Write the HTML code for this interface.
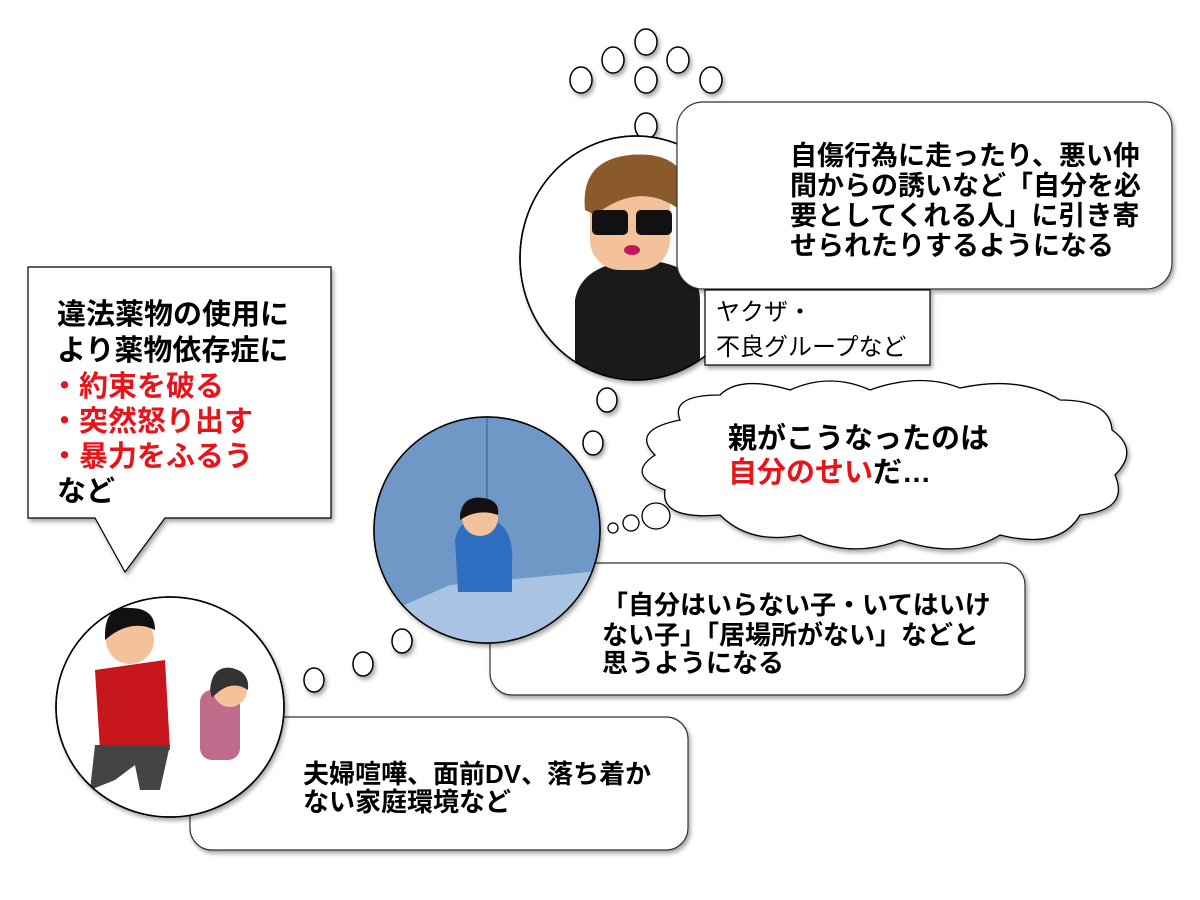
<!DOCTYPE html>
<html><head><meta charset="utf-8"><style>
body{margin:0;background:#fff}
svg{display:block}
text{font-family:"Liberation Sans","Noto Sans CJK JP",sans-serif;font-weight:bold}
</style></head><body>
<svg width="1200" height="900" viewBox="0 0 1200 900" xmlns="http://www.w3.org/2000/svg">
<defs>
<filter id="sh" x="-10%" y="-10%" width="130%" height="130%"><feDropShadow dx="2" dy="3" stdDeviation="2" flood-color="#000" flood-opacity="0.35"/></filter>
<clipPath id="c1"><ellipse cx="636" cy="258" rx="116" ry="122"/></clipPath>
<clipPath id="c2"><ellipse cx="487" cy="530" rx="113" ry="113"/></clipPath>
<clipPath id="c3"><ellipse cx="170" cy="707" rx="114" ry="110"/></clipPath>
</defs>

<g fill="#fff" stroke="#000" stroke-width="1.5" filter="url(#sh)">
<ellipse cx="646" cy="42" rx="11" ry="13"/><ellipse cx="613" cy="60" rx="11" ry="13"/><ellipse cx="678" cy="60" rx="11" ry="13"/>
<ellipse cx="581" cy="80" rx="11" ry="13"/><ellipse cx="646" cy="80" rx="11" ry="13"/><ellipse cx="711" cy="80" rx="11" ry="13"/>
<ellipse cx="646" cy="126" rx="11" ry="13"/>
<ellipse cx="607" cy="400" rx="10" ry="12"/><ellipse cx="593" cy="443" rx="10" ry="12"/>
<ellipse cx="402" cy="641" rx="10" ry="12"/><ellipse cx="363" cy="664" rx="10" ry="12"/><ellipse cx="314" cy="680" rx="10" ry="12"/>
</g>

<ellipse cx="636" cy="258" rx="116" ry="122" fill="#fff" stroke="#000" stroke-width="1.5" filter="url(#sh)"/>
<g clip-path="url(#c1)">
<path d="M575 300 Q580 270 620 262 L660 262 Q700 270 700 300 L700 380 L575 380Z" fill="#1a1a1a"/>
<rect x="590" y="175" width="80" height="95" rx="30" fill="#f3c29b"/>
<path d="M585 210 Q580 160 630 155 Q680 150 690 190 L680 210 Q640 180 595 215Z" fill="#8a5a2b"/>
<rect x="592" y="210" width="36" height="25" rx="5" fill="#111"/><rect x="636" y="210" width="36" height="25" rx="5" fill="#111"/>
<ellipse cx="632" cy="250" rx="8" ry="5" fill="#c2185b"/>
</g>
<ellipse cx="636" cy="258" rx="116" ry="122" fill="none" stroke="#000" stroke-width="1.5"/>

<rect x="677" y="102" width="495" height="187" rx="26" fill="#fff" stroke="#333" stroke-width="1.2" filter="url(#sh)"/>
<g font-size="27" fill="#000">
<text x="790" y="165">自傷行為に走ったり、悪い仲</text>
<text x="790" y="195">間からの誘いなど「自分を必</text>
<text x="790" y="225">要としてくれる人」に引き寄</text>
<text x="790" y="255">せられたりするようになる</text>
</g>
<rect x="705" y="290" width="225" height="75" fill="#fff" stroke="#000" stroke-width="1.2" filter="url(#sh)"/>
<g font-size="24" fill="#000"><text x="716" y="320" style="font-weight:normal">ヤクザ・</text><text x="716" y="355" style="font-weight:normal">不良グループなど</text></g>

<path d="M680 420 Q670 395 720 395 Q740 375 790 390 Q830 372 870 390 Q920 372 960 388 Q1020 375 1060 400 Q1110 400 1112 430 Q1140 450 1115 475 Q1130 510 1080 515 Q1060 550 1000 535 Q960 560 900 540 Q850 560 800 535 Q750 545 720 515 Q660 520 665 490 Q625 475 655 455 Q630 430 680 420Z" fill="#fff" stroke="#000" stroke-width="1.3" filter="url(#sh)"/>
<g fill="#fff" stroke="#000" stroke-width="1.3"><ellipse cx="656" cy="516" rx="14" ry="13"/><ellipse cx="631" cy="523" rx="8" ry="8"/><ellipse cx="613" cy="528" rx="5" ry="5"/></g>
<text x="728" y="448" font-size="29" fill="#000">親がこうなったのは</text>
<text x="728" y="482" font-size="29" fill="#000"><tspan fill="#e8141b">自分のせい</tspan>だ…</text>

<rect x="490" y="563" width="535" height="132" rx="22" fill="#fff" stroke="#333" stroke-width="1.2" filter="url(#sh)"/>
<g font-size="26" fill="#000">
<text x="602" y="614">「自分はいらない子・いてはいけ</text>
<text x="602" y="644">ない子」「居場所がない」などと</text>
<text x="602" y="672">思うようになる</text>
</g>
<ellipse cx="487" cy="530" rx="113" ry="113" fill="#7ea3cc" stroke="#000" stroke-width="1.5" filter="url(#sh)"/>
<g clip-path="url(#c2)">
<rect x="370" y="410" width="240" height="240" fill="#6f98c6"/>
<path d="M370 620 L450 585 L610 570 L610 650 L370 650Z" fill="#a9c4e2"/>
<line x1="487" y1="410" x2="487" y2="510" stroke="#4f78a6" stroke-width="2"/>
<path d="M455 540 Q460 515 485 518 Q515 522 512 565 L512 592 L458 592Z" fill="#2f6fc1"/>
<circle cx="480" cy="518" r="18" fill="#f3c29b"/>
<path d="M460 515 Q463 495 483 498 Q500 500 498 515 Q478 508 460 520Z" fill="#111"/>
</g>
<ellipse cx="487" cy="530" rx="113" ry="113" fill="none" stroke="#000" stroke-width="1.5"/>

<rect x="190" y="717" width="498" height="133" rx="22" fill="#fff" stroke="#333" stroke-width="1.2" filter="url(#sh)"/>
<ellipse cx="170" cy="707" rx="114" ry="110" fill="#fff" stroke="#000" stroke-width="1.5" filter="url(#sh)"/>
<g clip-path="url(#c3)">
<path d="M95 670 L165 660 L170 750 L100 750Z" fill="#c8161d"/>
<path d="M95 745 L170 745 L160 790 L140 790 L135 765 L115 780 L90 790Z" fill="#444"/>
<circle cx="130" cy="640" r="24" fill="#f3c29b"/>
<path d="M105 635 Q105 605 130 608 Q155 608 155 630 Q130 618 105 640Z" fill="#111"/>
<rect x="200" y="690" width="40" height="70" rx="12" fill="#c06a8c"/>
<circle cx="230" cy="690" r="17" fill="#f3c29b"/>
<path d="M210 690 Q212 665 232 668 Q250 672 248 690 Q230 678 212 698Z" fill="#333"/>
</g>
<ellipse cx="170" cy="707" rx="114" ry="110" fill="none" stroke="#000" stroke-width="1.5"/>
<g font-size="26" fill="#000">
<text x="303" y="783">夫婦喧嘩、面前DV、落ち着か</text>
<text x="303" y="811">ない家庭環境など</text>
</g>

<path d="M28 267 L331 267 L331 518 L165 518 L125 572 L95 518 L28 518Z" fill="#fff" stroke="#000" stroke-width="1.2" filter="url(#sh)"/>
<g font-size="29" fill="#000">
<text x="57" y="324">違法薬物の使用に</text>
<text x="57" y="360">より薬物依存症に</text>
<text x="50" y="396" fill="#e8141b">・約束を破る</text>
<text x="50" y="431" fill="#e8141b">・突然怒り出す</text>
<text x="50" y="466" fill="#e8141b">・暴力をふるう</text>
<text x="57" y="501">など</text>
</g>
</svg>
</body></html>
